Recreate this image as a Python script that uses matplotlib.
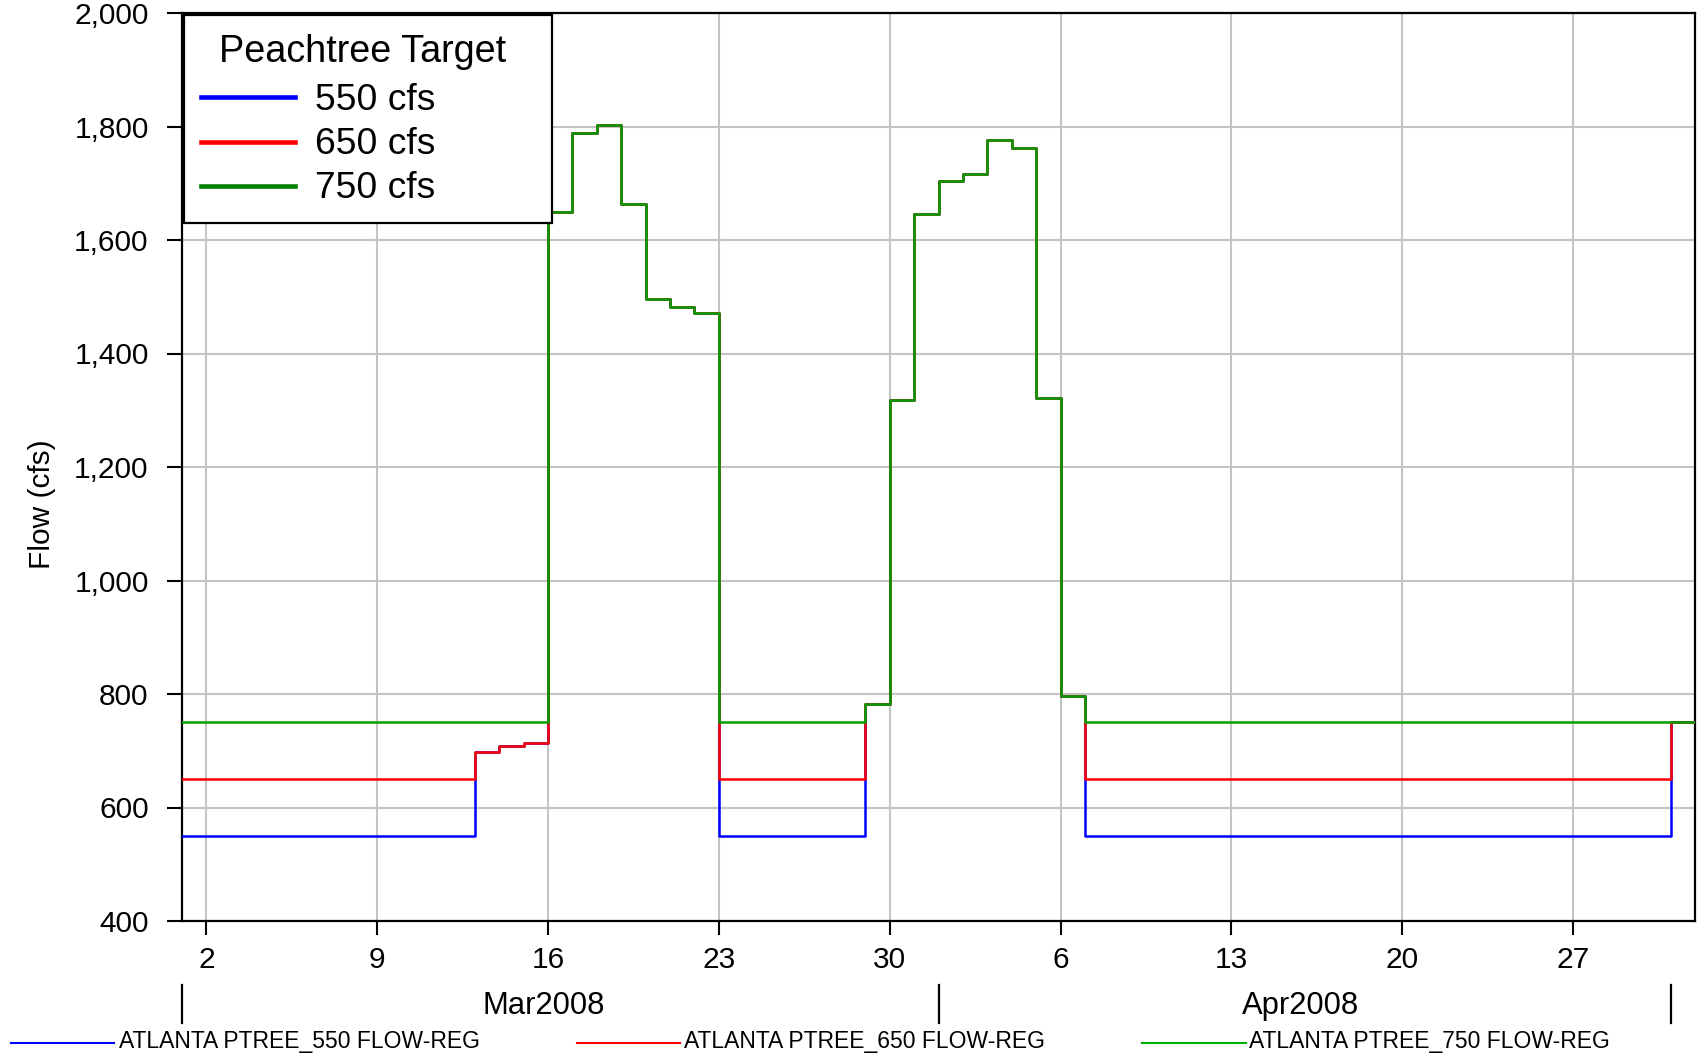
import numpy as np
import matplotlib
matplotlib.use('Agg')
import matplotlib.pyplot as plt
import matplotlib.dates as mdates
from matplotlib.lines import Line2D
from matplotlib.patches import Rectangle
import matplotlib.transforms as mtransforms

plt.rcParams['font.family'] = ['Liberation Sans', 'DejaVu Sans']

# ---------------- data (daily values, Mar 1 2008 .. May 1 2008) ----------------
start_date = '2008-03-01'
n_days = 62

flow_550 = [550, 550, 550, 550, 550, 550, 550, 550, 550, 550, 550, 550,
            698, 708, 713, 1649, 1788, 1802, 1663, 1496, 1482, 1471,
            550, 550, 550, 550, 550, 550,
            782, 1318, 1646, 1704, 1716, 1777, 1762, 1321, 797,
            550, 550, 550, 550, 550, 550, 550, 550, 550, 550, 550, 550,
            550, 550, 550, 550, 550, 550, 550, 550, 550, 550, 550, 550,
            750]
flow_650 = [650, 650, 650, 650, 650, 650, 650, 650, 650, 650, 650, 650,
            698, 708, 713, 1649, 1788, 1802, 1663, 1496, 1482, 1471,
            650, 650, 650, 650, 650, 650,
            782, 1318, 1646, 1704, 1716, 1777, 1762, 1321, 797,
            650, 650, 650, 650, 650, 650, 650, 650, 650, 650, 650, 650,
            650, 650, 650, 650, 650, 650, 650, 650, 650, 650, 650, 650,
            750]
flow_750 = [750, 750, 750, 750, 750, 750, 750, 750, 750, 750, 750, 750,
            750, 750, 750, 1649, 1788, 1802, 1663, 1496, 1482, 1471,
            750, 750, 750, 750, 750, 750,
            782, 1318, 1646, 1704, 1716, 1777, 1762, 1321, 797,
            750, 750, 750, 750, 750, 750, 750, 750, 750, 750, 750, 750,
            750, 750, 750, 750, 750, 750, 750, 750, 750, 750, 750, 750,
            750]

series_names = ['ATLANTA PTREE_550 FLOW-REG', 'ATLANTA PTREE_650 FLOW-REG',
                'ATLANTA PTREE_750 FLOW-REG']
legend_labels = ['550 cfs', '650 cfs', '750 cfs']
legend_title = 'Peachtree Target'
y_label = 'Flow (cfs)'
y_ticks = [400, 600, 800, 1000, 1200, 1400, 1600, 1800, 2000]
x_tick_dates = ['2008-03-02', '2008-03-09', '2008-03-16', '2008-03-23', '2008-03-30',
                '2008-04-06', '2008-04-13', '2008-04-20', '2008-04-27']
month_bounds = ['2008-03-01', '2008-04-01', '2008-05-01']
month_labels = ['Mar2008', 'Apr2008']
month_label_dates = ['2008-03-15T20', '2008-04-15T20']

# ---------------- figure ----------------
W, H = 1706, 1054
fig = plt.figure(figsize=(W / 100, H / 100), dpi=100)
ax = fig.add_axes([182 / W, 1 - 921 / H, (1695 - 182) / W, (921 - 13) / H])


def fx(px):
    return px / W


def fy(py):
    return 1 - py / H


edges = mdates.date2num(np.datetime64(start_date) + np.arange(n_days + 1).astype('timedelta64[D]'))

line_cols = ['#0000FF', '#FF0000', '#00A000']
for vals, c in zip([flow_550, flow_650, flow_750], line_cols):
    ax.step(edges, list(vals) + [vals[-1]], where='post', color=c, lw=1.8, zorder=3)

ax.set_xlim(edges[0], edges[-1])
ax.set_ylim(400, 2000)
ax.set_yticks(y_ticks)
ax.set_yticklabels([f'{v:,}' for v in y_ticks])
xt = mdates.date2num(np.array(x_tick_dates, dtype='datetime64[D]'))
ax.set_xticks(xt)
ax.set_xticklabels([str(int(d[-2:])) for d in x_tick_dates])

ax.grid(True, color='#C4C4C4', lw=1.5, zorder=0)
ax.set_axisbelow(True)
for s in ax.spines.values():
    s.set_color('black')
    s.set_linewidth(1.6)
ax.tick_params(axis='both', direction='out', colors='black', width=1.5, labelsize=21.5)
ax.tick_params(axis='x', length=10, pad=8)
ax.tick_params(axis='y', length=11, pad=13)
ax.set_ylabel(y_label, fontsize=21.5)
ax.yaxis.set_label_coords(-0.083, 0.459)

# month separators and labels
trans = mtransforms.blended_transform_factory(ax.transData, ax.transAxes)
for d in month_bounds:
    xd = mdates.date2num(np.datetime64(d))
    ax.plot([xd, xd], [-0.070, -0.112], transform=trans, color='black', lw=1.6, clip_on=False)
for d, lab in zip(month_label_dates, month_labels):
    xd = mdates.date2num(np.datetime64(d))
    ax.text(xd, -0.094, lab, transform=trans, ha='center', va='center', fontsize=22.3)

# inner legend box (drawn in figure pixel positions)
fig.add_artist(Rectangle((fx(184), fy(223)), fx(552) - fx(184), fy(15) - fy(223),
                         transform=fig.transFigure, facecolor='white', edgecolor='black',
                         lw=1.6, zorder=5))
fig.text(fx(363), fy(52), legend_title, ha='center', va='center', fontsize=27.2, zorder=6)
leg_cols = ['#0000FF', '#FF0000', '#008000']
for i, (c, lab) in enumerate(zip(leg_cols, legend_labels)):
    yy = fy(97 + i * 44.5)
    fig.add_artist(Line2D([fx(201), fx(295)], [yy, yy], color=c, lw=3.3,
                          transform=fig.transFigure, zorder=6))
    fig.text(fx(315), fy(100 + i * 44.5), lab, ha='left', va='center', fontsize=26.8, zorder=6)

# bottom series legend
bottom_cols = ['#0000FF', '#FF0000', '#00B000']
line_x = [(11, 114), (577, 680), (1142, 1246)]
text_x = [119, 684, 1249]
for (x0, x1), tx, c, name in zip(line_x, text_x, bottom_cols, series_names):
    fig.add_artist(Line2D([fx(x0), fx(x1)], [fy(1043), fy(1043)], color=c, lw=1.5,
                          transform=fig.transFigure))
    fig.text(fx(tx), fy(1048), name, ha='left', va='baseline', fontsize=16.5)

fig.savefig('out.png', dpi=100)
